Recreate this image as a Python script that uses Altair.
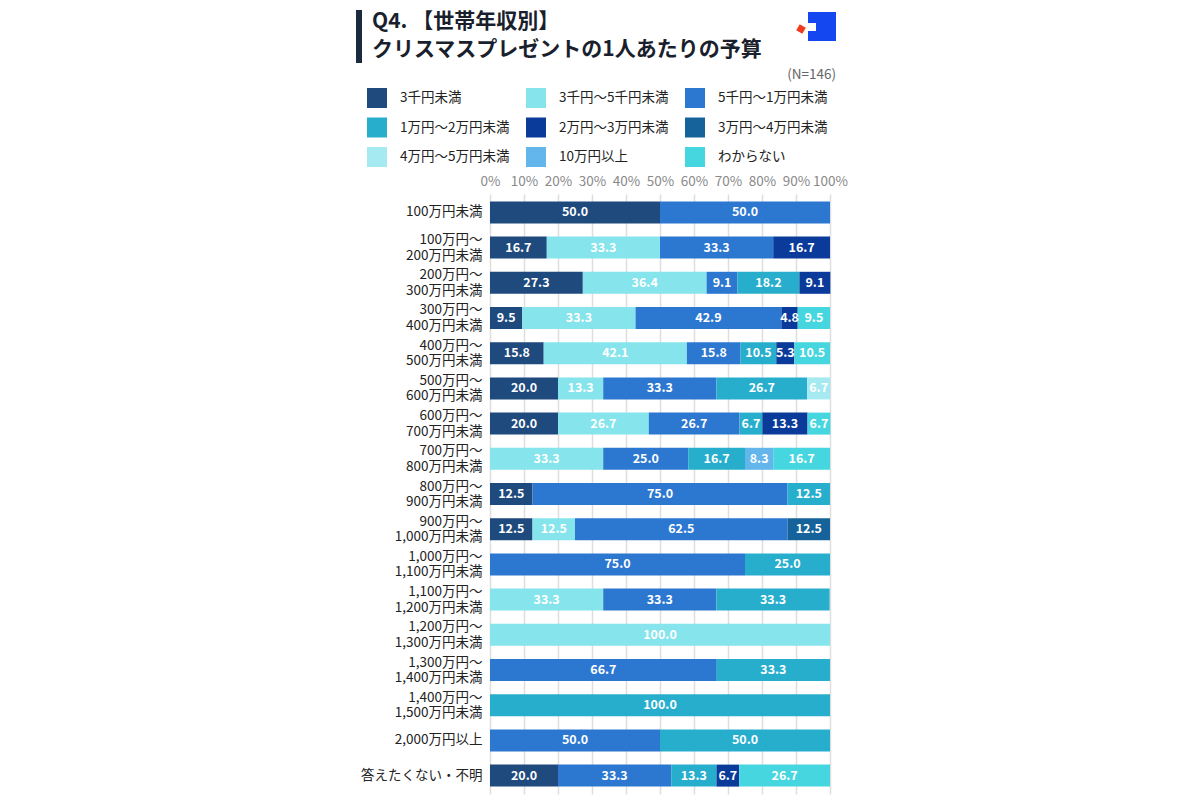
import altair as alt
import pandas as pd

FONT = "Noto Sans CJK JP"

categories = ["3千円未満", "3千円～5千円未満", "5千円～1万円未満",
              "1万円～2万円未満", "2万円～3万円未満", "3万円～4万円未満",
              "4万円～5万円未満", "10万円以上", "わからない"]
colors = ["#1f4a7e", "#86e4ec", "#2c77d0", "#28aecd", "#0a3a9a",
          "#15639a", "#a5eaf0", "#62b6ec", "#46d6e0"]

groups = ["100万円未満", "100万円～200万円未満", "200万円～300万円未満",
          "300万円～400万円未満", "400万円～500万円未満", "500万円～600万円未満",
          "600万円～700万円未満", "700万円～800万円未満", "800万円～900万円未満",
          "900万円～1,000万円未満", "1,000万円～1,100万円未満",
          "1,100万円～1,200万円未満", "1,200万円～1,300万円未満",
          "1,300万円～1,400万円未満", "1,400万円～1,500万円未満",
          "2,000万円以上", "答えたくない・不明"]

s_under3k   = [50.0, 16.7, 27.3, 9.5, 15.8, 20.0, 20.0, 0, 12.5, 12.5, 0, 0, 0, 0, 0, 0, 20.0]
s_3k_5k     = [0, 33.3, 36.4, 33.3, 42.1, 13.3, 26.7, 33.3, 0, 12.5, 0, 33.3, 100.0, 0, 0, 0, 0]
s_5k_10k    = [50.0, 33.3, 9.1, 42.9, 15.8, 33.3, 26.7, 25.0, 75.0, 62.5, 75.0, 33.3, 0, 66.7, 0, 50.0, 33.3]
s_10k_20k   = [0, 0, 18.2, 0, 10.5, 26.7, 6.7, 16.7, 12.5, 0, 25.0, 33.3, 0, 33.3, 100.0, 50.0, 13.3]
s_20k_30k   = [0, 16.7, 9.1, 4.8, 5.3, 0, 13.3, 0, 0, 0, 0, 0, 0, 0, 0, 0, 6.7]
s_30k_40k   = [0, 0, 0, 0, 0, 0, 0, 0, 0, 12.5, 0, 0, 0, 0, 0, 0, 0]
s_40k_50k   = [0, 0, 0, 0, 0, 6.7, 0, 0, 0, 0, 0, 0, 0, 0, 0, 0, 0]
s_100k_plus = [0, 0, 0, 0, 0, 0, 0, 8.3, 0, 0, 0, 0, 0, 0, 0, 0, 0]
s_unknown   = [0, 0, 0, 9.5, 10.5, 0, 6.7, 16.7, 0, 0, 0, 0, 0, 0, 0, 0, 26.7]

series = [s_under3k, s_3k_5k, s_5k_10k, s_10k_20k, s_20k_30k,
          s_30k_40k, s_40k_50k, s_100k_plus, s_unknown]

x_ticks = [0, 10, 20, 30, 40, 50, 60, 70, 80, 90, 100]

rows = []
for ci, (cat, vals) in enumerate(zip(categories, series)):
    for gi, g in enumerate(groups):
        if vals[gi] > 0:
            rows.append({"group": g, "cat": cat, "order": ci, "value": vals[gi]})
df = pd.DataFrame(rows)

y_label_expr = ("indexof(datum.value, '～') > 0 ? "
                "[substring(datum.value, 0, indexof(datum.value, '～') + 1), "
                "substring(datum.value, indexof(datum.value, '～') + 1, length(datum.value))] "
                ": datum.value")

base = alt.Chart(df).transform_stack(
    stack="value", as_=["x0", "x1"], groupby=["group"],
    sort=[alt.SortField("order", order="ascending")]
).transform_calculate(mid="(datum.x0 + datum.x1) / 2")

x_scale = alt.Scale(domain=[0, 100], nice=False)
x_axis = alt.Axis(orient="top", title=None, values=x_ticks, domain=False,
                  ticks=False, labelExpr="datum.value + '%'",
                  labelColor="#8a8a8a", labelFontSize=13.5, labelFont=FONT,
                  labelPadding=6, labelFlush=False, labelOverlap=False,
                  grid=True, gridColor="#dedede", gridWidth=1.5)
y_scale = alt.Scale(paddingInner=0.375, paddingOuter=0.21)
y_axis = alt.Axis(title=None, domain=False, ticks=False, labelPadding=8,
                  labelFontSize=13.5, labelColor="#222222", labelFont=FONT,
                  labelLineHeight=15.5, labelExpr=y_label_expr, labelLimit=300,
                  labelOffset={"condition": {"test": "indexof(datum.value, '～') > 0",
                                             "value": -7.5},
                               "value": 0})

bars = base.mark_bar().encode(
    x=alt.X("x0:Q", scale=x_scale, axis=x_axis),
    x2="x1:Q",
    y=alt.Y("group:N", sort=groups, scale=y_scale, axis=y_axis),
    color=alt.Color("cat:N", scale=alt.Scale(domain=categories, range=colors),
                    legend=alt.Legend(title=None, orient="none", legendX=-123, legendY=-106,
                                      direction="horizontal",
                                      columns=3, columnPadding=16, rowPadding=9.5,
                                      symbolType="square", symbolSize=400,
                                      symbolStrokeWidth=0, symbolOpacity=1,
                                      labelFontSize=13.5, labelColor="#222222",
                                      labelFont=FONT, labelOffset=13, padding=0,
                                      labelLimit=300)),
)

labels = base.mark_text(color="white", fontWeight="bold", fontSize=12.5, font=FONT).encode(
    x=alt.X("mid:Q", scale=x_scale, axis=x_axis),
    y=alt.Y("group:N", sort=groups, scale=y_scale, axis=y_axis),
    text=alt.Text("value:Q", format=".1f"),
)

one = pd.DataFrame({"k": [0]})

title_bar = alt.Chart(one).mark_rect(color="#1b2a3d").encode(
    x=alt.value(-134), x2=alt.value(-128), y=alt.value(-184), y2=alt.value(-131))
title1 = alt.Chart(one).mark_text(align="left", baseline="middle", fontSize=21,
                                  fontWeight="bold", font=FONT, color="#1a1f2e").encode(
    x=alt.value(-118), y=alt.value(-172), text=alt.value("Q4. 【世帯年収別】"))
title2 = alt.Chart(one).mark_text(align="left", baseline="middle", fontSize=21,
                                  fontWeight="bold", font=FONT, color="#1a1f2e").encode(
    x=alt.value(-118), y=alt.value(-144), text=alt.value("クリスマスプレゼントの1人あたりの予算"))
n_note = alt.Chart(one).mark_text(align="right", baseline="middle", fontSize=13.5,
                                  font=FONT, color="#666666").encode(
    x=alt.value(346), y=alt.value(-119), text=alt.value("(N=146)"))
logo_blue = alt.Chart(one).mark_rect(color="#1447f0").encode(
    x=alt.value(318), x2=alt.value(346), y=alt.value(-182), y2=alt.value(-153))
logo_notch = alt.Chart(one).mark_rect(color="white").encode(
    x=alt.value(318), x2=alt.value(326), y=alt.value(-171), y2=alt.value(-163))
logo_red = alt.Chart(one).mark_point(shape="square", filled=True, size=50, angle=30,
                                     color="#f03c1e", opacity=1).encode(
    x=alt.value(311), y=alt.value(-165))

chart = alt.layer(bars, labels, title_bar, title1, title2, n_note,
                  logo_blue, logo_notch, logo_red).properties(
    width=340, height=600,
    padding={"left": 490, "top": 194, "right": 370, "bottom": 6},
    autosize=alt.AutoSizeParams(type="none"),
    background="white",
).configure_view(stroke=None)

chart.save("out.html", embed_options={"renderer": "svg", "actions": False})
